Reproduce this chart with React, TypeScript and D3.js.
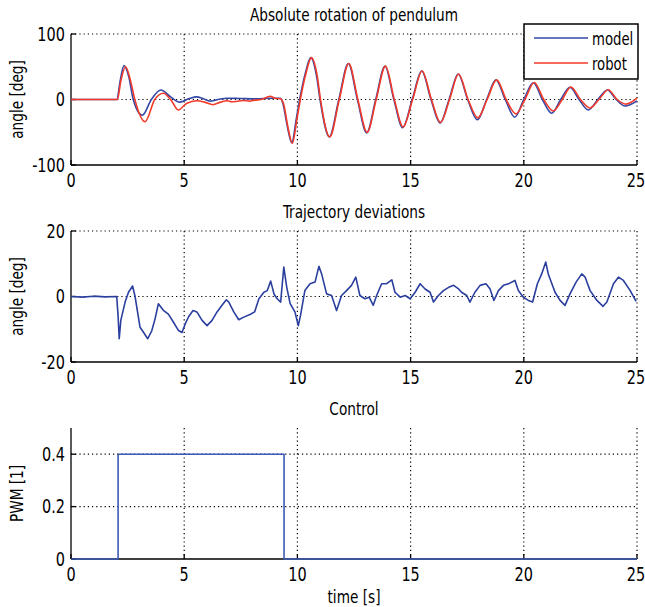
import React from 'react';
import * as d3 from 'd3';

// values: [time s, value]
const modelAngle: [number, number][] = [
  [0, 0], [2.02, 0], [2.18, 30], [2.34, 52], [2.55, 35], [2.75, 0], [3.15, -24], [3.55, 0],
  [3.97, 14.5], [4.4, 4], [4.81, -4], [5.2, 1], [5.55, 4], [5.85, 1], [6.14, -2.5], [6.5, 0],
  [6.88, 2], [7.5, 1.5], [8.2, 1], [8.8, 2], [9.25, 2], [9.35, -5], [9.55, -40], [9.75, -66],
  [9.95, -30], [10.1, 0], [10.35, 40], [10.59, 64], [10.85, 35], [11.0, 0], [11.41, -57],
  [11.83, 0], [12.25, 55], [12.65, 0], [13.06, -51], [13.46, 0], [13.87, 51], [14.26, 0],
  [14.65, -43], [15.07, 0], [15.49, 43.5], [15.9, 0], [16.3, -36], [16.7, 0], [17.1, 39],
  [17.52, 0], [17.95, -31], [18.36, 0], [18.77, 30], [19.18, 0], [19.6, -27], [20.0, 0],
  [20.42, 25.6], [20.82, 0], [21.23, -21], [21.63, 0], [22.04, 18.6], [22.44, 0], [22.85, -16],
  [23.27, 0], [23.69, 14.5], [24.08, 0], [24.47, -10], [25, -2],
];

const robotAngle: [number, number][] = [
  [0, 0], [2.05, 0], [2.2, 28], [2.41, 50], [2.62, 30], [2.82, 0], [3.27, -34], [3.7, 0],
  [4.08, 9.5], [4.4, 0], [4.74, -16], [5.1, -6], [5.55, -2], [5.9, -4], [6.27, -8], [6.6, -4],
  [6.9, -2], [7.1, -3.5], [7.3, -3], [7.6, -1.5], [7.9, -2.5], [8.1, -1], [8.4, 0], [8.8, 5],
  [9.0, 2], [9.25, 1], [9.4, -8], [9.58, -42], [9.78, -67], [9.98, -30], [10.13, 0], [10.38, 40],
  [10.62, 64], [10.88, 35], [11.02, 0], [11.43, -57], [11.85, 0], [12.27, 55], [12.67, 0],
  [13.08, -50], [13.48, 0], [13.89, 51], [14.28, 0], [14.67, -42], [15.09, 0], [15.51, 43.5],
  [15.92, 0], [16.32, -35], [16.72, 0], [17.12, 39], [17.54, 0], [17.97, -28], [18.38, 0],
  [18.8, 30], [19.22, 0], [19.65, -22], [20.05, 0], [20.46, 26], [20.88, 0], [21.3, -17.5],
  [21.7, 0], [22.08, 19], [22.5, 0], [22.92, -13], [23.32, 0], [23.73, 15], [24.12, 0],
  [24.52, -7], [25, 2],
];

const deviation: [number, number][] = [
  [0, 0], [0.5, -0.2], [1, 0.1], [1.5, -0.1], [2.02, 0], [2.08, -6], [2.13, -12.9], [2.2, -7.3],
  [2.39, -1.7], [2.54, 1.3], [2.72, 3.2], [2.83, 0], [3.05, -9.4], [3.2, -10.9], [3.39, -12.9],
  [3.57, -10.4], [3.71, -6.9], [3.86, -2.2], [4.08, -4.2], [4.3, -5.4], [4.52, -7.8],
  [4.75, -10.4], [4.9, -11], [5.05, -8.3], [5.2, -6.1], [5.39, -4.3], [5.56, -4.7], [5.79, -7.3],
  [6.01, -8.9], [6.23, -7.3], [6.45, -4.7], [6.67, -2.7], [6.86, -1.0], [6.97, -1.7],
  [7.19, -4.7], [7.41, -7.1], [7.63, -6.3], [7.93, -5.4], [8.11, -4.7], [8.3, -0.7], [8.52, 1.3],
  [8.67, 1.8], [8.82, 4.7], [8.97, 0.7], [9.11, -0.7], [9.26, -1.7], [9.4, 9.0], [9.53, 2.8],
  [9.68, -2.2], [9.89, -4.7], [10.04, -8.9], [10.14, -5.7], [10.33, 1.8], [10.56, 3.9],
  [10.78, 4.4], [10.95, 9.2], [11.07, 6.9], [11.29, 0.8], [11.51, 0.3], [11.73, -4.3],
  [11.95, 0.3], [12.17, 1.8], [12.39, 3.4], [12.58, 5.9], [12.76, 0.3], [12.98, -0.7],
  [13.17, -0.2], [13.35, -2.7], [13.5, 0.3], [13.72, 3.9], [13.94, 3.9], [14.17, 5.1],
  [14.31, 1.3], [14.54, -0.2], [14.76, 0.3], [14.98, -0.7], [15.2, 1.3], [15.42, 3.9],
  [15.64, 2.3], [15.86, 1.3], [16.01, -1.7], [16.23, 0.3], [16.45, 1.8], [16.68, 2.8],
  [16.9, 3.4], [17.12, 2.3], [17.25, 1.3], [17.48, 0.3], [17.62, -1.7], [17.84, 1.3],
  [18.07, 3.4], [18.33, 3.9], [18.51, 2.3], [18.68, -1.2], [18.88, 1.8], [19.1, 3.4],
  [19.36, 4.0], [19.61, 4.9], [19.76, 1.8], [19.98, -0.2], [20.2, -1.2], [20.39, -1.7],
  [20.6, 3.9], [20.79, 6.9], [20.97, 10.5], [21.08, 6.9], [21.38, 1.3], [21.6, -1.2],
  [21.82, -2.7], [22.04, 0.8], [22.31, 4.4], [22.56, 6.9], [22.71, 5.9], [22.93, 1.8],
  [23.23, -1.2], [23.5, -3.0], [23.67, -1.7], [23.96, 3.9], [24.18, 5.9], [24.4, 4.9],
  [24.7, 1.8], [24.96, -1.5],
];

const control: [number, number][] = [
  [0, 0], [2.08, 0], [2.08, 0.4], [9.41, 0.4], [9.41, 0], [25, 0],
];

const timeTicks = [0, 5, 10, 15, 20, 25];
const angleTicks = [-100, 0, 100];
const devTicks = [-20, 0, 20];
const pwmTicks = [0, 0.2, 0.4];

const W = 645;
const H = 607;
const FONT = "'DejaVu Sans Condensed', 'Liberation Sans', sans-serif";
const left = 71;
const right = 637;

const x = d3.scaleLinear().domain([0, 25]).range([left, right]);

// text slightly stretched vertically, like the reference's narrow lettering
function T({ x, y, size, anchor, rotate, children }: {
  x: number; y: number; size: number; anchor?: string; rotate?: boolean; children: React.ReactNode;
}) {
  const tr = `translate(${x},${y})${rotate ? ' rotate(-90)' : ''} scale(0.92,1.08)`;
  return (
    <text transform={tr} textAnchor={anchor || 'start'} fontSize={size} fontFamily={FONT} fill="#000">{children}</text>
  );
}

type Series = { data: [number, number][]; color: string; smooth?: boolean };

function Panel({ top, bottom, domain, yTicks, title, ylabel, series }: {
  top: number; bottom: number; domain: [number, number]; yTicks: number[];
  title: string; ylabel: string; series: Series[];
}) {
  const y = d3.scaleLinear().domain(domain).range([bottom, top]);
  return (
    <g>
      <T x={(left + right) / 2} y={top - 13} size={16.5} anchor="middle">{title}</T>
      <T x={23} y={(top + bottom) / 2} size={16.5} anchor="middle" rotate>{ylabel}</T>
      {/* dotted grid */}
      {timeTicks.filter(t => t !== 0).map(t => (
        <line key={'gx' + t} x1={x(t)} x2={x(t)} y1={top} y2={bottom} stroke="#000" strokeWidth={1.2} strokeDasharray="1.2,3" />
      ))}
      {yTicks.filter(v => v !== domain[0]).map(v => (
        <line key={'gy' + v} x1={left} x2={right} y1={y(v)} y2={y(v)} stroke="#000" strokeWidth={1.2} strokeDasharray="1.2,3" />
      ))}
      {/* axes */}
      <line x1={left} x2={left} y1={top} y2={bottom} stroke="#000" strokeWidth={1.3} />
      <line x1={left} x2={right} y1={bottom} y2={bottom} stroke="#000" strokeWidth={1.3} />
      {timeTicks.map(t => (
        <g key={'tx' + t}>
          <line x1={x(t)} x2={x(t)} y1={bottom} y2={bottom - 5} stroke="#000" strokeWidth={1.3} />
          <T x={t === 25 ? x(t) - 1 : x(t)} y={bottom + 22} size={17.5} anchor="middle">{t}</T>
        </g>
      ))}
      {yTicks.map(v => (
        <g key={'ty' + v}>
          <line x1={left} x2={left + 5} y1={y(v)} y2={y(v)} stroke="#000" strokeWidth={1.3} />
          <T x={left - 6} y={y(v) + 6.5} size={17.5} anchor="end">{String(v)}</T>
        </g>
      ))}
      {/* data on top of the axes */}
      {series.map((s, i) => {
        const line = d3.line<[number, number]>()
          .x(d => x(d[0]))
          .y(d => y(d[1]))
          .curve(s.smooth ? d3.curveMonotoneX : d3.curveLinear);
        return <path key={i} d={line(s.data) || ''} fill="none" stroke={s.color} strokeWidth={1.6} strokeLinejoin="round" />;
      })}
    </g>
  );
}

export default function App() {
  return (
    <svg width={W} height={H} style={{ position: 'absolute', left: 0, top: 0, background: '#fff' }}>
      <Panel top={34} bottom={165} domain={[-100, 100]} yTicks={angleTicks}
        title="Absolute rotation of pendulum" ylabel="angle [deg]"
        series={[{ data: modelAngle, color: '#3448a6', smooth: true }, { data: robotAngle, color: '#f23b2a', smooth: true }]} />
      <Panel top={231} bottom={362} domain={[-20, 20]} yTicks={devTicks}
        title="Trajectory deviations" ylabel="angle [deg]"
        series={[{ data: deviation, color: '#2b3f9f' }]} />
      <Panel top={428} bottom={559} domain={[0, 0.5]} yTicks={pwmTicks}
        title="Control" ylabel="PWM [1]"
        series={[{ data: control, color: '#3d5bb5' }]} />
      <T x={(left + right) / 2} y={603} size={16.5} anchor="middle">time [s]</T>
      {/* legend */}
      <g>
        <rect x={524} y={24} width={114} height={55} fill="#fff" stroke="#000" strokeWidth={1.5} />
        <line x1={534} x2={588} y1={38} y2={38} stroke="#3448a6" strokeWidth={1.6} />
        <T x={592} y={45} size={16}>model</T>
        <line x1={534} x2={588} y1={63} y2={63} stroke="#f23b2a" strokeWidth={1.6} />
        <T x={592} y={70} size={16}>robot</T>
      </g>
    </svg>
  );
}
